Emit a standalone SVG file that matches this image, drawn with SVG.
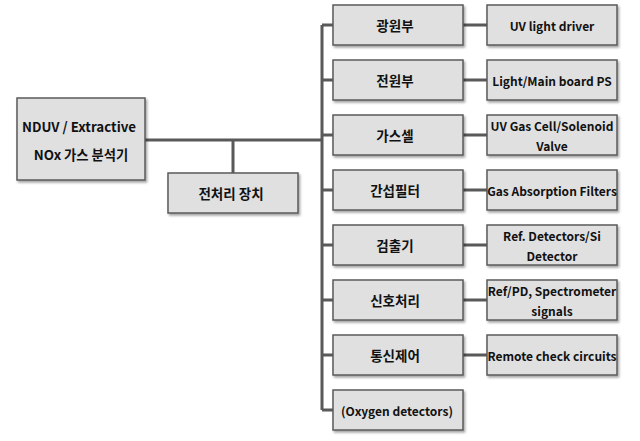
<svg xmlns="http://www.w3.org/2000/svg" width="640" height="441" viewBox="0 0 640 441">
<defs>
<filter id="sh" x="-10%" y="-10%" width="130%" height="140%">
<feDropShadow dx="1.5" dy="2" stdDeviation="1" flood-color="#000" flood-opacity="0.35"/>
</filter>
</defs>
<style>
.b{fill:#e0e0e0;stroke:#5a5a5a;stroke-width:1.5;filter:url(#sh)}
.t{font-family:"Noto Sans CJK KR","Liberation Sans",sans-serif;font-weight:bold;font-size:12px;fill:#111;text-anchor:middle;dominant-baseline:central}
.k{font-size:13.5px}
.m{font-size:13.3px}
.c{stroke:#595959;stroke-width:3;fill:none}
</style>
<rect width="640" height="441" fill="#fff"/>
<g id="connectors">
<path class="c" d="M145 140H322M233 140V173M322 25V410"/>
<path class="c" d="M322 25H333M322 80H333M322 135H333M322 190H333M322 245H333M322 300H333M322 355H333M322 410H333"/>
<path class="c" d="M463 25H487M463 80H487M463 135H487M463 190H487M463 245H487M463 300H487M463 355H487"/>
</g>
<g id="main"><rect class="b" x="17" y="98" width="128" height="82"/><text class="t m" x="79" y="126">NDUV / Extractive</text><text class="t m" x="81" y="154">NOx 가스 분석기</text></g>
<g id="pre"><rect class="b" x="168" y="173" width="130" height="40"/><text class="t k" x="231" y="193">전처리 장치</text></g>
<g id="m1"><rect class="b" x="333" y="5" width="130" height="40"/><text class="t k" x="395" y="25">광원부</text></g>
<g id="m2"><rect class="b" x="333" y="60" width="130" height="40"/><text class="t k" x="395" y="80">전원부</text></g>
<g id="m3"><rect class="b" x="333" y="115" width="130" height="40"/><text class="t k" x="395" y="135">가스셀</text></g>
<g id="m4"><rect class="b" x="333" y="170" width="130" height="40"/><text class="t k" x="395" y="190">간섭필터</text></g>
<g id="m5"><rect class="b" x="333" y="225" width="130" height="40"/><text class="t k" x="395" y="245">검출기</text></g>
<g id="m6"><rect class="b" x="333" y="280" width="130" height="40"/><text class="t k" x="395" y="300">신호처리</text></g>
<g id="m7"><rect class="b" x="333" y="335" width="130" height="40"/><text class="t k" x="395" y="355">통신제어</text></g>
<g id="m8"><rect class="b" x="333" y="390" width="130" height="40"/><text class="t" x="397" y="410">(Oxygen detectors)</text></g>
<g id="r1"><rect class="b" x="487" y="5" width="130" height="40"/><text class="t" x="552" y="25">UV light driver</text></g>
<g id="r2"><rect class="b" x="487" y="60" width="130" height="40"/><text class="t" x="552" y="80">Light/Main board PS</text></g>
<g id="r3"><rect class="b" x="487" y="115" width="130" height="40"/><text class="t" x="552" y="125">UV Gas Cell/Solenoid</text><text class="t" x="552" y="145">Valve</text></g>
<g id="r4"><rect class="b" x="487" y="170" width="130" height="40"/><text class="t" x="552" y="190">Gas Absorption Filters</text></g>
<g id="r5"><rect class="b" x="487" y="225" width="130" height="40"/><text class="t" x="552" y="235">Ref. Detectors/Si</text><text class="t" x="552" y="255">Detector</text></g>
<g id="r6"><rect class="b" x="487" y="280" width="130" height="40"/><text class="t" x="552" y="290">Ref/PD, Spectrometer</text><text class="t" x="552" y="310">signals</text></g>
<g id="r7"><rect class="b" x="487" y="335" width="130" height="40"/><text class="t" x="552" y="355">Remote check circuits</text></g>
</svg>
